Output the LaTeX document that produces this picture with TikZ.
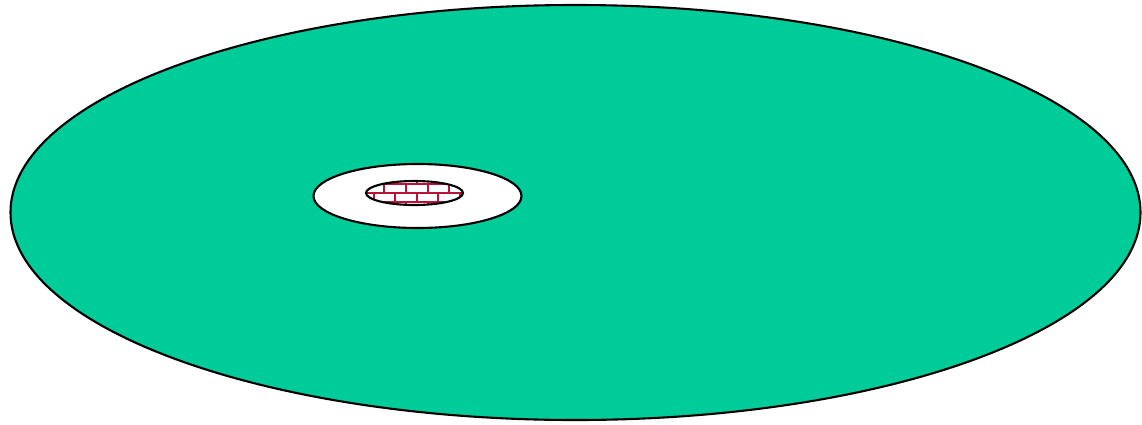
\documentclass[tikz,border=0pt]{standalone}
\usepackage{tikz}
\definecolor{disk}{HTML}{00CC9A}
\definecolor{brick}{HTML}{B81238}
\tikzset{
  outline/.style={draw=black, line width=2.1pt},
  brickline/.style={draw=brick, line width=2pt},
}
\begin{document}
\begin{tikzpicture}[x=1pt,y=-1pt]
\useasboundingbox (0,0) rectangle (1142,424);
% big disk
\path[outline, fill=disk] (575.5,212.5) ellipse [x radius=565, y radius=207.5];
% white ring
\path[outline, fill=white] (417.5,196) ellipse [x radius=104, y radius=32];
% inner hole with bricks
\begin{scope}
  \clip (414.5,193) ellipse [x radius=48.5, y radius=12];
  \fill[white] (360,175) rectangle (470,210);
  \foreach \yy in {183.5,192.5,201.5} {
    \draw[brickline] (360,\yy) -- (470,\yy);
  }
  \foreach \xx in {352,373.6,395.2,416.8,438.4,460} {
    \draw[brickline] (\xx,174.5) -- (\xx,183.5);
    \draw[brickline] (\xx,192.5) -- (\xx,201.5);
  }
  \foreach \xx in {341.2,362.8,384.4,406,427.6,449.2,470.8} {
    \draw[brickline] (\xx,183.5) -- (\xx,192.5);
    \draw[brickline] (\xx,201.5) -- (\xx,210.5);
  }
\end{scope}
\path[outline] (414.5,193) ellipse [x radius=48.5, y radius=12];
\end{tikzpicture}
\end{document}
